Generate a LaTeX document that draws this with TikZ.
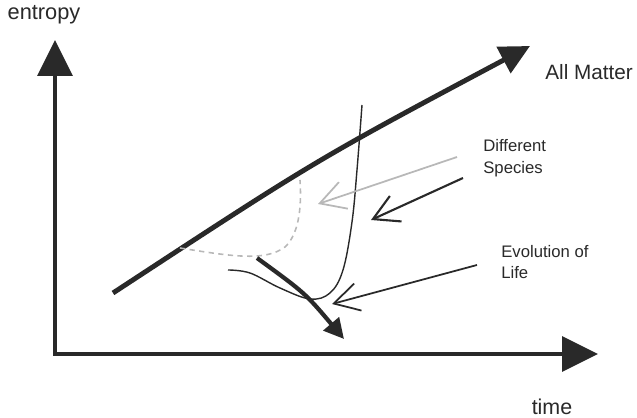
\documentclass[tikz,border=0pt]{standalone}
\usepackage{fontspec}
\setmainfont{Liberation Sans}
\usetikzlibrary{arrows.meta}
\definecolor{ink}{gray}{0.16}
\definecolor{faded}{gray}{0.72}

\begin{document}
\begin{tikzpicture}[x=0.02cm, y=-0.02cm, color=ink,
    axis/.style={line width=2pt, {Triangle[length=0.72cm, width=0.7cm]}-{Triangle[length=0.72cm, width=0.7cm]}},
    pointer/.style={line width=1pt, -{Straight Barb[length=0.5cm, width=0.56cm]}},
    lbl/.style={inner sep=0pt},
    note/.style={lbl, anchor=west, align=left, font=\fontsize{9.5}{12.2}\selectfont}]
  \useasboundingbox (0,0) rectangle (637,418);
  % axes
  \coordinate (ytip) at (55,40);
  \coordinate (O) at (55,354);
  \coordinate (xtip) at (598,354);
  \draw[axis] (ytip) -- (O) -- (xtip);
  \node[lbl, font=\fontsize{12.4}{14}\selectfont] (entropy) at (44,15) {entropy};
  \node[lbl, font=\fontsize{12.2}{14}\selectfont] (time) at (552,407) {time};
  % all matter
  \coordinate (m0) at (113,293);
  \coordinate (m1) at (530,46);
  \draw[line width=2.8pt, -{Triangle[length=0.6cm, width=0.58cm]}] (m0) .. controls (316,160) .. (m1);
  \node[lbl, anchor=west, font=\fontsize{11.8}{14}\selectfont] (matter) at (545,72) {All Matter};
  % species curves
  \draw[faded, line width=0.9pt, dash pattern=on 3pt off 2.5pt]
    (180,248) .. controls (230,256) and (265,262) .. (285,247)
    .. controls (298,235) and (302,210) .. (300,180);
  \draw[line width=0.8pt] plot[smooth, tension=0.6] coordinates
    {(228,270) (250,273) (280,288) (310,299) (330,293) (343,270) (352,222) (357,170) (362,105)};
  % evolution of life
  \draw[line width=2.4pt, -{Triangle[length=0.4cm, width=0.4cm]}] (257,258) .. controls (305,293) .. (344,339);
  % labels and pointers
  \node[note] (species) at (483,158) {Different\\Species};
  \node[note] (life) at (501,262) {Evolution of\\Life};
  \coordinate (g0) at (457,157);
  \coordinate (g1) at (318,204);
  \coordinate (s0) at (463,178);
  \coordinate (s1) at (371,220);
  \coordinate (e0) at (477,265);
  \coordinate (e1) at (332,304);
  \draw[pointer, faded] (g0) -- (g1);
  \draw[pointer, line width=1.2pt] (s0) -- (s1);
  \draw[pointer] (e0) -- (e1);
\end{tikzpicture}
\end{document}
